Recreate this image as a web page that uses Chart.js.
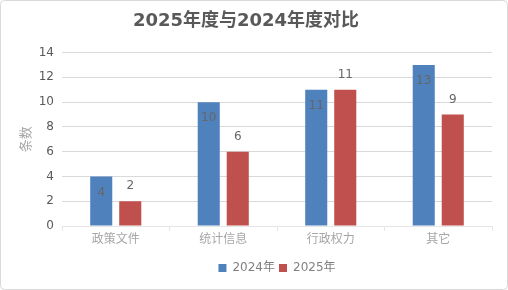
<!DOCTYPE html>
<html>
<head>
  <title>2025年度与2024年度对比</title>
  <script src="https://cdn.jsdelivr.net/npm/chart.js"></script>
  <style>
    body { margin: 0; background: #fff; }
    canvas { display: block; }
  </style>
</head>
<body>
  <canvas id="chart" width="508" height="290"></canvas>

  <script>
    const categories = ['政策文件', '统计信息', '行政权力', '其它'];
    const values2024 = [4, 10, 11, 13];
    const values2025 = [2, 6, 11, 9];
    const seriesNames = ['2024年', '2025年'];

    const FONT = "'DejaVu Sans', 'Noto Sans CJK SC', sans-serif";

    // white background + light frame
    const frame = {
      id: 'frame',
      beforeDraw(chart) {
        const c = chart.ctx;
        c.save();
        c.fillStyle = '#fff';
        c.fillRect(0, 0, chart.width, chart.height);
        c.strokeStyle = '#d9d9d9';
        c.lineWidth = 1;
        c.beginPath();
        c.roundRect(0.5, 0.5, chart.width - 1, chart.height - 1, 4);
        c.stroke();
        c.restore();
      }
    };

    // center legend under the plot area like Excel does
    const legendShift = {
      id: 'legendShift',
      afterLayout(chart) {
        const lg = chart.legend, ca = chart.chartArea;
        const dx = (ca.left + ca.right) / 2 - (lg.left + lg.right) / 2;
        lg.left += dx;
        lg.right += dx;
      }
    };

    // value labels: inside top for 2024, above bar for 2025
    const valueLabels = {
      id: 'valueLabels',
      afterDatasetsDraw(chart) {
        const c = chart.ctx;
        c.save();
        c.font = '12px ' + FONT;
        c.fillStyle = '#666666';
        c.textAlign = 'center';
        c.textBaseline = 'middle';
        chart.data.datasets.forEach((ds, i) => {
          chart.getDatasetMeta(i).data.forEach((bar, j) => {
            const y = i === 0 ? bar.y + 16 : bar.y - 15;
            c.fillText(ds.data[j], bar.x, y);
          });
        });
        c.restore();
      }
    };

    new Chart(document.getElementById('chart'), {
      type: 'bar',
      data: {
        labels: categories,
        datasets: [
          { label: seriesNames[0], data: values2024, backgroundColor: '#4f81bd' },
          { label: seriesNames[1], data: values2025, backgroundColor: '#c0504d' }
        ]
      },
      options: {
        responsive: false,
        animation: false,
        categoryPercentage: 0.54,
        barPercentage: 0.76,
        layout: { padding: { left: 0, right: 16, top: 0, bottom: 6 } },
        plugins: {
          title: {
            display: true,
            text: '2025年度与2024年度对比',
            color: '#595959',
            font: { family: FONT, size: 18, weight: 'bold' },
            padding: { top: 11, bottom: 20 }
          },
          legend: {
            position: 'bottom',
            labels: {
              boxWidth: 8, boxHeight: 8, padding: 4,
              color: '#808080',
              font: { family: FONT, size: 12 }
            }
          },
          tooltip: { enabled: false }
        },
        scales: {
          x: {
            afterFit: s => { s.height = 32; },
            grid: { offset: true, drawOnChartArea: false, tickLength: 5, color: '#e6e6e6' },
            border: { color: '#e6e6e6' },
            ticks: { color: '#a6a6a6', padding: 2, font: { family: FONT, size: 12 } }
          },
          y: {
            min: 0, max: 14,
            afterFit: s => { s.width = 62; },
            ticks: { stepSize: 2, color: '#595959', padding: 8, font: { family: FONT, size: 12 } },
            grid: {
              drawTicks: false,
              color: ctx => ctx.tick && ctx.tick.value === 0 ? 'rgba(0,0,0,0)' : '#d9d9d9'
            },
            border: { display: false },
            title: {
              display: true, text: '条数', color: '#a6a6a6',
              font: { family: FONT, size: 13 },
              padding: { top: 19, bottom: 0 }
            }
          }
        }
      },
      plugins: [frame, legendShift, valueLabels]
    });
  </script>
</body>
</html>
